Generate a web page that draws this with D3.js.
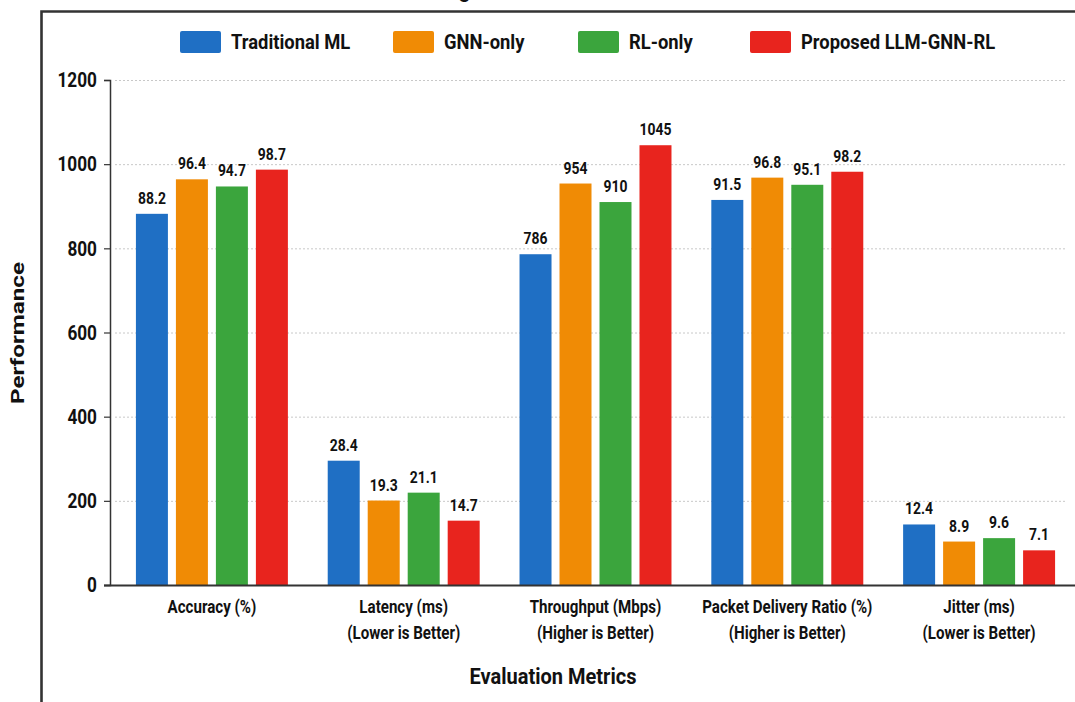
<!DOCTYPE html>
<html>
<head>
<meta charset="utf-8">
<script src="https://cdn.jsdelivr.net/npm/d3@7"></script>
<style>
  html, body { margin: 0; padding: 0; background: #fff; }
  svg { display: block; }
  text { font-family: Roboto, "Liberation Sans", Arial, sans-serif; }
</style>
</head>
<body>
<svg id="chart" width="1075" height="702"></svg>
<script>
// Metric groups along the x axis (two-line labels)
const metrics = ["Accuracy (%)", "Latency (ms)", "Throughput (Mbps)", "Packet Delivery Ratio (%)", "Jitter (ms)"];
const metricNotes = ["", "(Lower is Better)", "(Higher is Better)", "(Higher is Better)", "(Lower is Better)"];
// Bar height multiplier per metric so small-unit metrics share the common axis
const displayScale = [10, 10.4, 1, 10, 11.6];

const series = ["Traditional ML", "GNN-only", "RL-only", "Proposed LLM-GNN-RL"];
const colors = ["#1f6fc4", "#f08b05", "#3ba53d", "#e8241e"];

// Reported values, one array per method, in metric order
const traditionalML = [88.2, 28.4, 786, 91.5, 12.4];
const gnnOnly       = [96.4, 19.3, 954, 96.8, 8.9];
const rlOnly        = [94.7, 21.1, 910, 95.1, 9.6];
const proposed      = [98.7, 14.7, 1045, 98.2, 7.1];
const seriesValues = [traditionalML, gnnOnly, rlOnly, proposed];

const yTicks = [0, 200, 400, 600, 800, 1000, 1200];
const chartTitle = "Benchmarking Results Across Methods";

const svg = d3.select("#chart");
const W = 1075, H = 702;
const NARROW = 0.82; // horizontal squeeze for the condensed labels

// Re-anchor a text at its x/y and squeeze it horizontally
function condense(sel, k = NARROW) {
  sel.each(function() {
    const t = d3.select(this);
    const x = +t.attr("x") || 0, y = +t.attr("y") || 0;
    t.attr("x", 0).attr("y", 0).attr("transform", `translate(${x},${y}) scale(${k},1)`);
  });
  return sel;
}

svg.append("rect").attr("width", W).attr("height", H).attr("fill", "#fff");

const y = d3.scaleLinear().domain([0, 1200]).range([585, 80]);
const x0 = d3.scaleBand().domain(metrics).range([116, 1075]).paddingInner(0.166).paddingOuter(0.083);
const x1 = d3.scaleBand().domain(series).range([0, x0.bandwidth()]).paddingInner(0.2).paddingOuter(0.1);
const color = d3.scaleOrdinal().domain(series).range(colors);

// Title sits above the frame
svg.append("text")
  .attr("x", 517).attr("y", -2)
  .attr("text-anchor", "middle")
  .attr("font-weight", "bold").attr("font-size", 20)
  .attr("fill", "#111")
  .text(chartTitle);

// Outer frame
svg.append("path")
  .attr("d", `M41.5,${H} V11.5 H${W}`)
  .attr("fill", "none").attr("stroke", "#333").attr("stroke-width", 2.6);

// Dotted horizontal gridlines
svg.append("g").selectAll("line")
  .data(yTicks.filter(d => d > 0))
  .join("line")
  .attr("x1", 115).attr("x2", 1066)
  .attr("y1", d => y(d) + 0.5).attr("y2", d => y(d) + 0.5)
  .attr("stroke", "#c8c8c8").attr("stroke-width", 1)
  .attr("stroke-dasharray", "2,2");

// Y axis
const yAxis = svg.append("g")
  .attr("transform", "translate(110,0)")
  .call(d3.axisLeft(y).tickValues(yTicks).tickSize(6).tickPadding(7).tickFormat(d3.format("d")));
yAxis.select(".domain").attr("stroke", "#333").attr("stroke-width", 1.5);
yAxis.selectAll(".tick line").attr("stroke", "#333").attr("stroke-width", 1.2);
yAxis.selectAll(".tick text")
  .attr("font-family", "Roboto, sans-serif")
  .attr("font-size", 21).attr("font-weight", "bold").attr("fill", "#111")
  .call(condense);

// Bars
const groups = svg.append("g").selectAll("g")
  .data(metrics)
  .join("g")
  .attr("transform", m => `translate(${x0(m)},0)`);

const cell = (m, i) => series.map((s, j) => ({ s, v: seriesValues[j][i], h: seriesValues[j][i] * displayScale[i] }));

groups.selectAll("rect")
  .data(cell)
  .join("rect")
  .attr("x", d => x1(d.s))
  .attr("width", x1.bandwidth())
  .attr("y", d => y(d.h))
  .attr("height", d => y(0) - y(d.h))
  .attr("fill", d => color(d.s));

groups.selectAll("text")
  .data(cell)
  .join("text")
  .attr("x", d => x1(d.s) + x1.bandwidth() / 2)
  .attr("y", d => y(d.h) - 10)
  .attr("text-anchor", "middle")
  .attr("font-size", 17).attr("font-weight", "bold").attr("fill", "#111")
  .text(d => d.v)
  .call(condense);

// X axis with two-line category labels
const xAxis = svg.append("g")
  .attr("transform", "translate(0,585)")
  .call(d3.axisBottom(x0).tickSize(0).tickPadding(0));
xAxis.select(".domain").remove();
xAxis.selectAll(".tick text").remove();
xAxis.selectAll(".tick").each(function(m, i) {
  const lines = metricNotes[i] ? [m, metricNotes[i]] : [m];
  d3.select(this).selectAll("text.cat")
    .data(lines)
    .join("text")
    .attr("class", "cat")
    .attr("x", 0)
    .attr("y", (d, k) => 28 + k * 26)
    .attr("text-anchor", "middle")
    .attr("font-size", 18).attr("font-weight", "bold").attr("fill", "#111")
    .text(d => d)
    .call(condense, 0.84);
});

svg.append("line")
  .attr("x1", 104).attr("x2", W)
  .attr("y1", 585.5).attr("y2", 585.5)
  .attr("stroke", "#333").attr("stroke-width", 2);

// Axis titles
svg.append("text")
  .attr("x", 553).attr("y", 684)
  .attr("text-anchor", "middle")
  .attr("font-size", 22).attr("font-weight", "bold").attr("fill", "#111")
  .text("Evaluation Metrics")
  .call(condense, 0.91);

svg.append("text")
  .attr("transform", "translate(24,333) rotate(-90)")
  .attr("text-anchor", "middle")
  .attr("font-family", "Liberation Sans, Arial, sans-serif")
  .attr("font-size", 18).attr("font-weight", "bold").attr("fill", "#111")
  .attr("textLength", 142).attr("lengthAdjust", "spacingAndGlyphs")
  .text("Performance");

// Legend
const legendX = [180, 393, 578, 750];
const legend = svg.append("g").selectAll("g")
  .data(series)
  .join("g")
  .attr("transform", (d, i) => `translate(${legendX[i]},31)`);
legend.append("rect")
  .attr("width", 41).attr("height", 22).attr("rx", 2)
  .attr("fill", d => color(d));
legend.append("text")
  .attr("x", 51).attr("y", 18)
  .attr("font-size", 20).attr("font-weight", "bold").attr("fill", "#111")
  .text(d => d)
  .call(condense, 0.92);
</script>
</body>
</html>
